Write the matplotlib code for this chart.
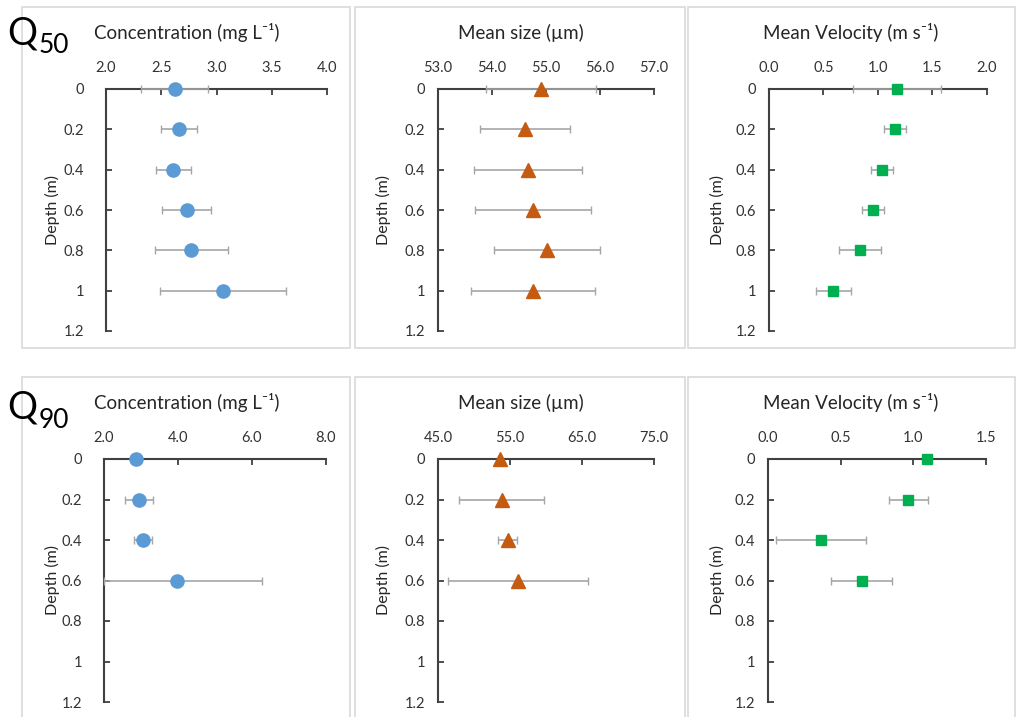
import numpy as np
import matplotlib
matplotlib.use("Agg")
import matplotlib.pyplot as plt
from matplotlib.patches import Rectangle
from matplotlib.ticker import FormatStrFormatter, FuncFormatter

plt.rcParams['font.family'] = ['Lato', 'DejaVu Sans']

# ---- data ----
depth_q50 = [0, 0.2, 0.4, 0.6, 0.8, 1.0]
conc_q50 = [2.62, 2.66, 2.61, 2.73, 2.77, 3.06]
conc_q50_err = [0.30, 0.16, 0.16, 0.22, 0.33, 0.57]
size_q50 = [54.91, 54.61, 54.67, 54.76, 55.02, 54.76]
size_q50_err = [1.02, 0.84, 1.00, 1.07, 0.98, 1.14]
vel_q50 = [1.175, 1.156, 1.04, 0.955, 0.835, 0.59]
vel_q50_err = [0.40, 0.10, 0.10, 0.10, 0.19, 0.16]

depth_q90 = [0, 0.2, 0.4, 0.6]
conc_q90 = [2.86, 2.95, 3.06, 3.98]
conc_q90_err = [0.0, 0.37, 0.24, 2.30]
size_q90 = [53.6, 53.85, 54.7, 56.1]
size_q90_err = [0.0, 5.9, 1.3, 9.7]
vel_q90 = [1.094, 0.965, 0.365, 0.645]
vel_q90_err = [0.0, 0.135, 0.31, 0.21]

titles = ['Concentration (mg L\u207b\u00b9)', 'Mean size (\u00b5m)', 'Mean Velocity (m s\u207b\u00b9)']
xlims_q50 = [(2.0, 4.0), (53.0, 57.0), (0.0, 2.0)]
xticks_q50 = [[2.0, 2.5, 3.0, 3.5, 4.0], [53, 54, 55, 56, 57], [0, 0.5, 1.0, 1.5, 2.0]]
xlims_q90 = [(2.0, 8.0), (45.0, 75.0), (0.0, 1.5)]
xticks_q90 = [[2, 4, 6, 8], [45, 55, 65, 75], [0, 0.5, 1.0, 1.5]]
yticks = [0, 0.2, 0.4, 0.6, 0.8, 1.0, 1.2]

colors = ['#5B9BD5', '#C55A11', '#00B050']
markers = ['o', '^', 's']
msizes = [9.5, 9.5, 6.5]

W, H = 1020, 717
fig = plt.figure(figsize=(W / 100, H / 100), dpi=100)


def frac(x0, y0, x1, y1):
    return [x0 / W, 1 - y1 / H, (x1 - x0) / W, (y1 - y0) / H]


# light grey chart-area borders
for (x0, y0, x1, y1) in [(22, 7, 350, 348), (355, 7, 685, 348), (688, 7, 1015, 348),
                         (22, 377, 350, 730), (355, 377, 685, 730), (688, 377, 1015, 730)]:
    fig.patches.append(Rectangle((x0 / W, 1 - y1 / H), (x1 - x0) / W, (y1 - y0) / H,
                                 transform=fig.transFigure, fill=False,
                                 edgecolor='#D9D9D9', lw=1.2))

ycol = [(106, 327), (438, 654), (769, 987)]
ycol_b = [(104, 326), (438, 654), (768, 986)]
ypads = [16, 9, 9]
title_x = [187, 521, 851]
depth_x = [52, 383, 717]


def panel(rect, depth, vals, errs, xlim, xticks, i, title, ty, dy):
    ax = fig.add_axes(rect)
    vals = np.array(vals)
    errs = np.array(errs)
    lo = np.minimum(errs, vals - xlim[0])
    ax.errorbar(vals, depth, xerr=[lo, errs], fmt='none', ecolor='#A6A6A6',
                elinewidth=1.2, capsize=3, capthick=1, zorder=3, clip_on=False)
    ax.plot(vals, depth, linestyle='none', marker=markers[i], ms=msizes[i],
            color=colors[i], zorder=4, clip_on=False)
    ax.set_xlim(*xlim)
    ax.set_ylim(1.2, 0)
    ax.set_xticks(xticks)
    ax.set_yticks(yticks)
    ax.xaxis.set_major_formatter(FormatStrFormatter('%.1f'))
    ax.yaxis.set_major_formatter(FuncFormatter(lambda v, p: '%g' % round(v, 1)))
    ax.xaxis.tick_top()
    for s in ['right', 'bottom']:
        ax.spines[s].set_visible(False)
    for s in ['left', 'top']:
        ax.spines[s].set_color('#404040')
        ax.spines[s].set_linewidth(1.5)
    ax.tick_params(axis='x', direction='in', length=4, width=1.3, color='#404040',
                   labelsize=10.5, pad=10, labelcolor='#333333')
    ax.tick_params(axis='y', direction='in', length=4, width=1.3, color='#404040',
                   labelsize=10.5, pad=ypads[i], labelcolor='#333333')
    ax.patch.set_visible(False)
    fig.text(title_x[i] / W, 1 - ty / H, title, ha='center', va='center',
             fontsize=13.5, color='#262626')
    fig.text(depth_x[i] / W, 1 - dy / H, 'Depth (m)', ha='center', va='center',
             rotation=90, fontsize=11.5, color='#262626')
    return ax


for i in range(3):
    panel(frac(ycol[i][0], 89, ycol[i][1], 331), depth_q50,
          [conc_q50, size_q50, vel_q50][i], [conc_q50_err, size_q50_err, vel_q50_err][i],
          xlims_q50[i], xticks_q50[i], i, titles[i], 33, 210)
    panel(frac(ycol_b[i][0], 459, ycol_b[i][1], 702), depth_q90,
          [conc_q90, size_q90, vel_q90][i], [conc_q90_err, size_q90_err, vel_q90_err][i],
          xlims_q90[i], xticks_q90[i], i, titles[i], 403, 580)

# Q labels
fig.text(7 / W, 1 - 44 / H, 'Q', fontsize=27, ha='left', va='baseline')
fig.text(39 / W, 1 - 53 / H, '50', fontsize=19, ha='left', va='baseline')
fig.text(7 / W, 1 - 419 / H, 'Q', fontsize=27, ha='left', va='baseline')
fig.text(39 / W, 1 - 428 / H, '90', fontsize=19, ha='left', va='baseline')

fig.savefig('out.png', dpi=100)
